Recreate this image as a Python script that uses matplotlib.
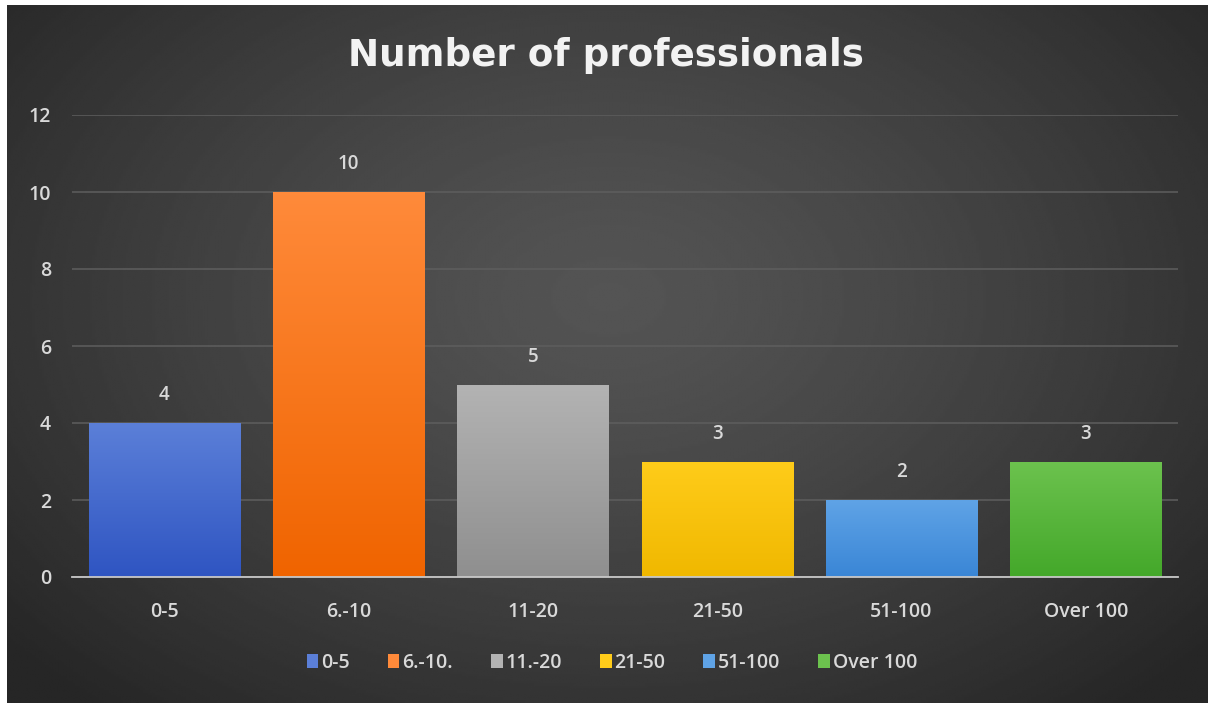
import numpy as np
import matplotlib
matplotlib.use("Agg")
import matplotlib.pyplot as plt
from matplotlib.colors import LinearSegmentedColormap, to_rgb

categories = ["0-5", "6.-10", "11-20", "21-50", "51-100", "Over 100"]
legend_labels = ["0-5", "6.-10.", "11.-20", "21-50", "51-100", "Over 100"]
values = [4, 10, 5, 3, 2, 3]
top_colors = ["#5b7fd8", "#ff8a3a", "#b3b3b3", "#ffcc1a", "#5fa3e6", "#6cc24e"]
bottom_colors = ["#2f55c2", "#f06400", "#8f8f8f", "#f0b800", "#3a86d6", "#44a82a"]
yticks = [0, 2, 4, 6, 8, 10, 12]

W, H = 1208, 705
fig = plt.figure(figsize=(W / 100, H / 100), dpi=100)
fig.patch.set_facecolor("white")

# radial dark background panel
bg = fig.add_axes([7 / W, 2 / H, (W - 7) / W, (H - 7) / H])
bg.set_axis_off()
yy, xx = np.mgrid[0:300, 0:500]
cx, cy = 250, 125
d = np.sqrt(((xx - cx) / 330.0) ** 2 + ((yy - cy) / 230.0) ** 2)
d = np.clip(d, 0, 1)
light, dark = 0.33, 0.15
img = light - (light - dark) * d ** 1.3
bg.imshow(img, cmap="gray", vmin=0, vmax=1, aspect="auto",
          extent=[0, 1, 0, 1], interpolation="bilinear")
bg.set_xlim(0, 1)
bg.set_ylim(0, 1)

ax = fig.add_axes([72 / W, (H - 577) / H, (1178 - 72) / W, (577 - 115) / H])
ax.patch.set_alpha(0)
x = np.arange(len(categories))
bars = ax.bar(x, values, width=0.82, color=top_colors, label="_nolegend_", zorder=2)

grad = np.linspace(0, 1, 100).reshape(-1, 1)
for b, c0, c1 in zip(bars, top_colors, bottom_colors):
    cmap = LinearSegmentedColormap.from_list("g", [to_rgb(c1), to_rgb(c0)])
    x0, y0 = b.get_x(), b.get_y()
    im = ax.imshow(grad, cmap=cmap, aspect="auto", origin="lower",
                   extent=[x0, x0 + b.get_width(), y0, y0 + b.get_height()],
                   zorder=3, interpolation="bilinear")
    im.set_clip_path(b)

label_font = {"family": "Open Sans", "weight": "semibold"}
for xi, v in zip(x, values):
    ax.annotate(str(v), (xi, v), xytext=(0, 20), textcoords="offset points",
                ha="center", va="center", color="#d9d9d9", fontsize=13.5,
                **label_font)

ax.set_xlim(-0.5, len(categories) - 0.5)
ax.set_ylim(0, 12)
ax.set_yticks(yticks)
ax.set_xticks(x)
ax.set_xticklabels(categories)
ax.grid(axis="y", color="#5e5e5e", linewidth=1.1, zorder=0)
ax.set_axisbelow(True)
for s in ["top", "right", "left"]:
    ax.spines[s].set_visible(False)
ax.spines["bottom"].set_color("#c8c8c8")
ax.spines["bottom"].set_linewidth(1.3)
ax.spines["bottom"].set_zorder(4)
ax.tick_params(length=0, colors="#d9d9d9", labelsize=14)
ax.tick_params(axis="y", pad=15)
ax.tick_params(axis="x", pad=18)
for lab in ax.get_xticklabels() + ax.get_yticklabels():
    lab.set_family("Open Sans")
    lab.set_weight("semibold")

fig.text(0.5 + 2 / W, 1 - 56 / H, "Number of professionals", ha="center", va="center",
         color="#f2f2f2", fontsize=26.8, fontweight="bold", family="DejaVu Sans")

handles = [plt.Rectangle((0, 0), 1, 1, facecolor=c) for c in top_colors]
leg = fig.legend(handles, legend_labels, loc="center", bbox_to_anchor=(612 / W, 1 - 663 / H),
                 ncol=6, frameon=False, handlelength=0.6, handleheight=0.75,
                 handletextpad=0.15, columnspacing=1.95,
                 prop={"family": "Open Sans", "size": 14, "weight": "semibold"})
for t in leg.get_texts():
    t.set_color("#d9d9d9")

fig.savefig("out.png", dpi=100)
